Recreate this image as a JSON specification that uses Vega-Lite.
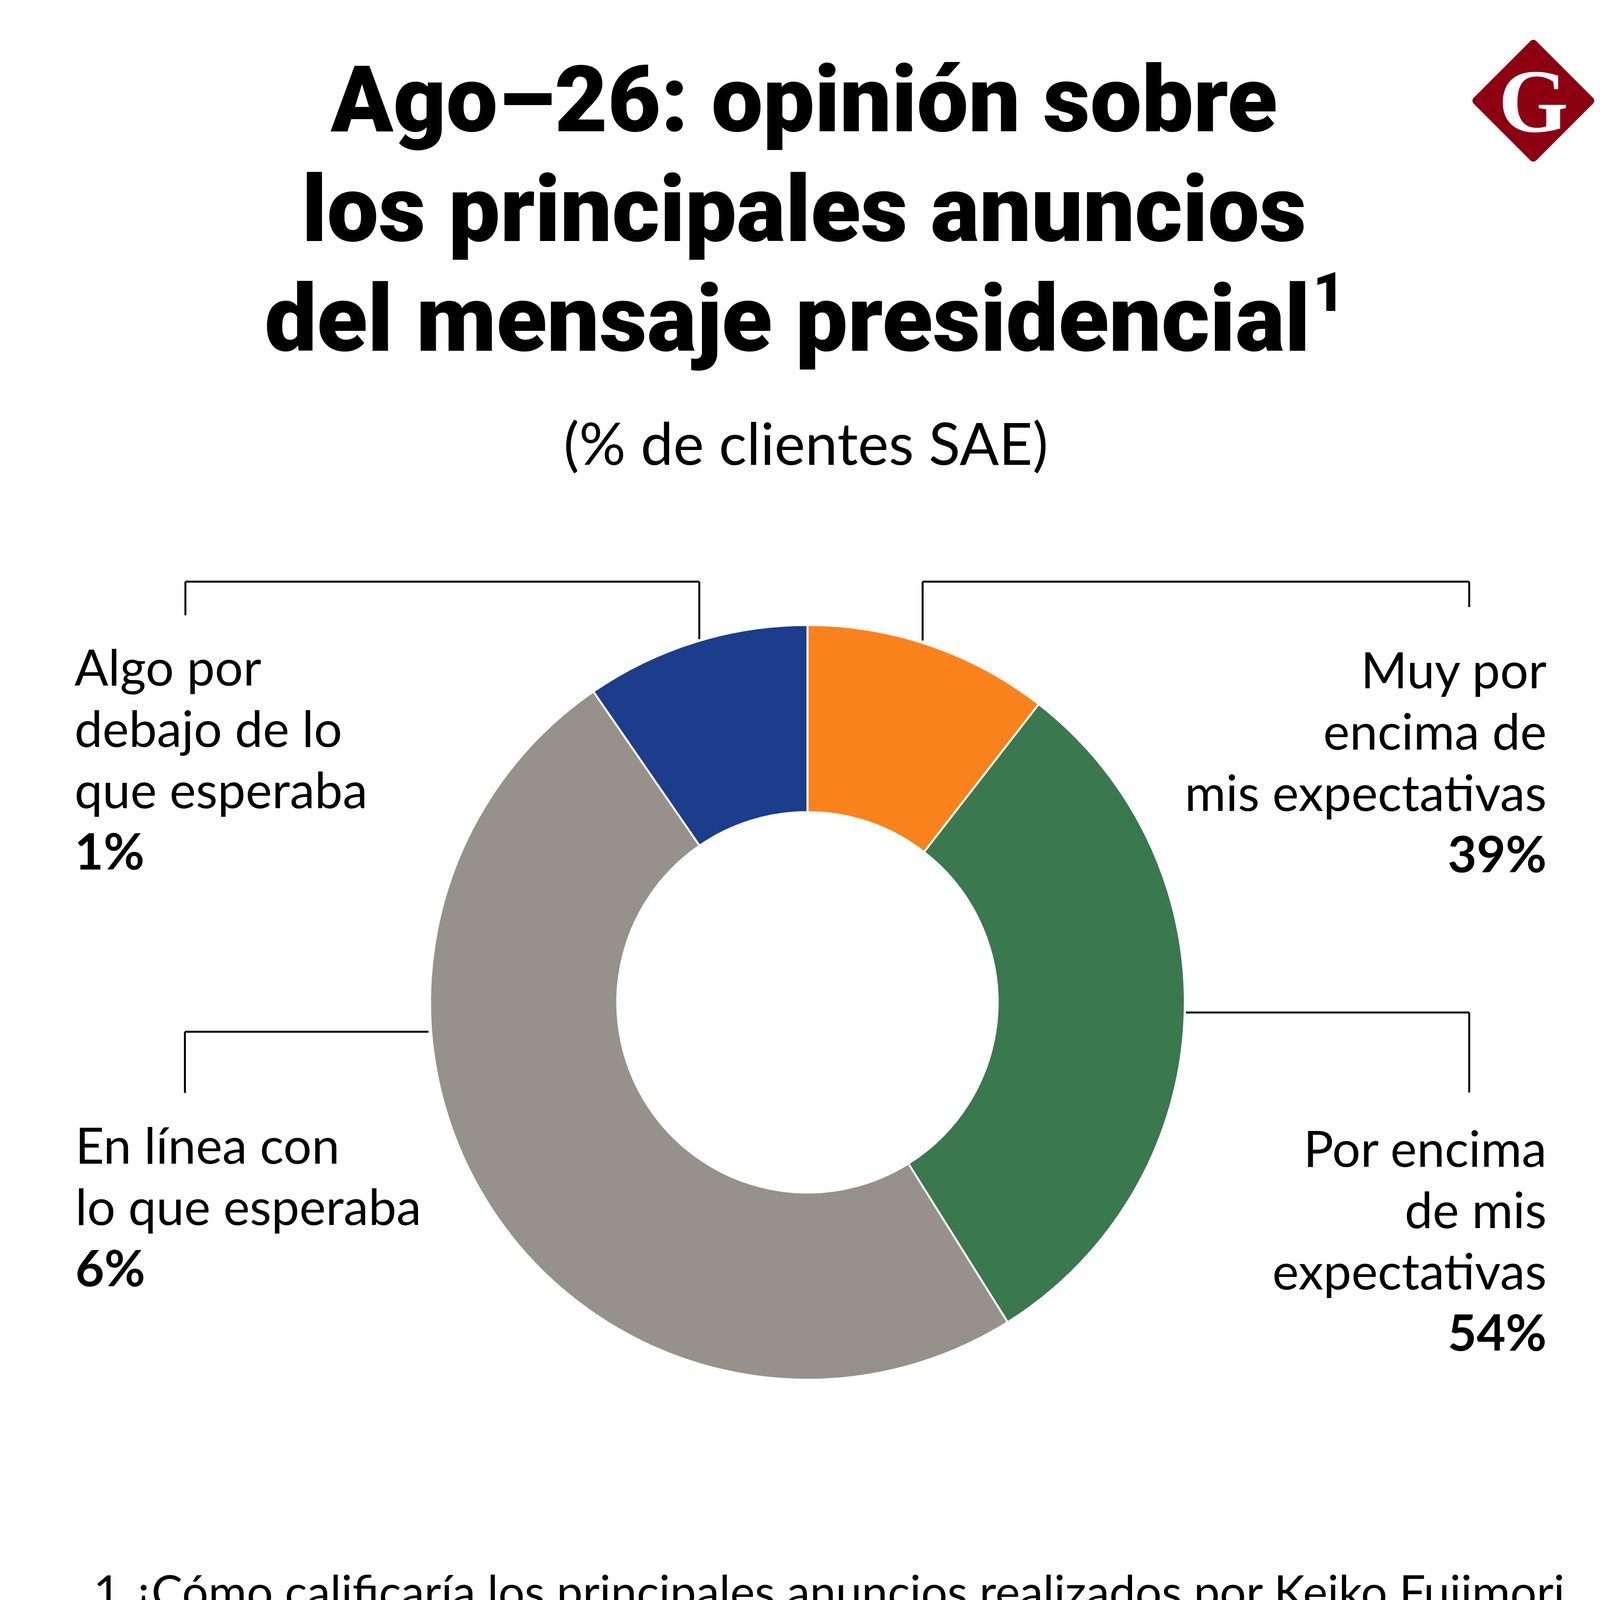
{
  "$schema": "https://vega.github.io/schema/vega-lite/v6.json",
  "autosize": {"type": "fit", "contains": "padding"},
  "width": 4150,
  "height": 5295,
  "padding": 0,
  "background": "#ffffff",
  "config": {"view": {"stroke": null}, "axis": {"disable": true}, "text": {"font": "Lato", "color": "#000000"}},
  "data": {"values": [
    {"categoria": "Muy por\nencima de\nmis expectativas", "proporcion": 0.39, "sector": 10.5, "orden": 1},
    {"categoria": "Por encima\nde mis\nexpectativas", "proporcion": 0.54, "sector": 30.6, "orden": 2},
    {"categoria": "En línea con\n\u00a0lo que esperaba", "proporcion": 0.06, "sector": 49.3, "orden": 3},
    {"categoria": "Algo por\ndebajo de lo\nque esperaba", "proporcion": 0.01, "sector": 9.6, "orden": 4}
  ]},
  "layer": [
    {
      "mark": {"type": "arc", "outerRadius": 966, "innerRadius": 487, "stroke": "#ffffff", "strokeWidth": 5},
      "encoding": {
        "x": {"datum": 49.81, "type": "quantitative", "scale": {"domain": [0, 100], "nice": false, "zero": false}},
        "y": {"datum": 48.46, "type": "quantitative", "scale": {"domain": [0, 100], "nice": false, "zero": false, "reverse": true}},
        "theta": {"field": "sector", "type": "quantitative", "stack": true},
        "order": {"field": "orden", "type": "quantitative"},
        "color": {"field": "categoria", "type": "nominal", "legend": null,
          "scale": {"domain": ["Muy por\nencima de\nmis expectativas", "Por encima\nde mis\nexpectativas", "En línea con\n\u00a0lo que esperaba", "Algo por\ndebajo de lo\nque esperaba"],
                    "range": ["#FA821C", "#3A784E", "#96918A", "#1C3D8C"]}}
      }
    },
    {
      "transform": [{"filter": "datum.orden == 1"}],
      "mark": {"type": "text", "align": "right", "baseline": "alphabetic", "fontSize": 128, "lineHeight": 157, "lineBreak": "\n"},
      "encoding": {
        "x": {"datum": 95.45, "type": "quantitative", "scale": {"domain": [0, 100], "nice": false, "zero": false}},
        "y": {"datum": 33.28, "type": "quantitative", "scale": {"domain": [0, 100], "nice": false, "zero": false, "reverse": true}},
        "text": {"field": "categoria"}
      }
    },
    {
      "transform": [{"filter": "datum.orden == 1"}],
      "mark": {"type": "text", "align": "right", "baseline": "alphabetic", "fontSize": 128, "fontWeight": "bold"},
      "encoding": {
        "x": {"datum": 95.45, "type": "quantitative", "scale": {"domain": [0, 100], "nice": false, "zero": false}},
        "y": {"datum": 42.17, "type": "quantitative", "scale": {"domain": [0, 100], "nice": false, "zero": false, "reverse": true}},
        "text": {"field": "proporcion", "type": "quantitative", "format": ".0%"}
      }
    },
    {
      "transform": [{"filter": "datum.orden == 2"}],
      "mark": {"type": "text", "align": "right", "baseline": "alphabetic", "fontSize": 128, "lineHeight": 157, "lineBreak": "\n"},
      "encoding": {
        "x": {"datum": 95.45, "type": "quantitative", "scale": {"domain": [0, 100], "nice": false, "zero": false}},
        "y": {"datum": 56.41, "type": "quantitative", "scale": {"domain": [0, 100], "nice": false, "zero": false, "reverse": true}},
        "text": {"field": "categoria"}
      }
    },
    {
      "transform": [{"filter": "datum.orden == 2"}],
      "mark": {"type": "text", "align": "right", "baseline": "alphabetic", "fontSize": 128, "fontWeight": "bold"},
      "encoding": {
        "x": {"datum": 95.45, "type": "quantitative", "scale": {"domain": [0, 100], "nice": false, "zero": false}},
        "y": {"datum": 65.31, "type": "quantitative", "scale": {"domain": [0, 100], "nice": false, "zero": false, "reverse": true}},
        "text": {"field": "proporcion", "type": "quantitative", "format": ".0%"}
      }
    },
    {
      "transform": [{"filter": "datum.orden == 3"}],
      "mark": {"type": "text", "align": "left", "baseline": "alphabetic", "fontSize": 128, "lineHeight": 157, "lineBreak": "\n"},
      "encoding": {
        "x": {"datum": 4.6, "type": "quantitative", "scale": {"domain": [0, 100], "nice": false, "zero": false}},
        "y": {"datum": 56.26, "type": "quantitative", "scale": {"domain": [0, 100], "nice": false, "zero": false, "reverse": true}},
        "text": {"field": "categoria"}
      }
    },
    {
      "transform": [{"filter": "datum.orden == 3"}],
      "mark": {"type": "text", "align": "left", "baseline": "alphabetic", "fontSize": 128, "fontWeight": "bold"},
      "encoding": {
        "x": {"datum": 4.6, "type": "quantitative", "scale": {"domain": [0, 100], "nice": false, "zero": false}},
        "y": {"datum": 62.19, "type": "quantitative", "scale": {"domain": [0, 100], "nice": false, "zero": false, "reverse": true}},
        "text": {"field": "proporcion", "type": "quantitative", "format": ".0%"}
      }
    },
    {
      "transform": [{"filter": "datum.orden == 4"}],
      "mark": {"type": "text", "align": "left", "baseline": "alphabetic", "fontSize": 128, "lineHeight": 157, "lineBreak": "\n"},
      "encoding": {
        "x": {"datum": 4.55, "type": "quantitative", "scale": {"domain": [0, 100], "nice": false, "zero": false}},
        "y": {"datum": 33.14, "type": "quantitative", "scale": {"domain": [0, 100], "nice": false, "zero": false, "reverse": true}},
        "text": {"field": "categoria"}
      }
    },
    {
      "transform": [{"filter": "datum.orden == 4"}],
      "mark": {"type": "text", "align": "left", "baseline": "alphabetic", "fontSize": 128, "fontWeight": "bold"},
      "encoding": {
        "x": {"datum": 4.55, "type": "quantitative", "scale": {"domain": [0, 100], "nice": false, "zero": false}},
        "y": {"datum": 42.04, "type": "quantitative", "scale": {"domain": [0, 100], "nice": false, "zero": false, "reverse": true}},
        "text": {"field": "proporcion", "type": "quantitative", "format": ".0%"}
      }
    },
    {
      "data": {"values": [{}]},
      "mark": {"type": "rule", "color": "#000000", "strokeWidth": 5},
      "encoding": {
        "x": {"datum": 11.4, "type": "quantitative", "scale": {"domain": [0, 100], "nice": false, "zero": false}},
        "x2": {"datum": 43.13},
        "y": {"datum": 28.12, "type": "quantitative", "scale": {"domain": [0, 100], "nice": false, "zero": false, "reverse": true}}
      }
    },
    {
      "data": {"values": [{}]},
      "mark": {"type": "rule", "color": "#000000", "strokeWidth": 5},
      "encoding": {
        "x": {"datum": 11.4, "type": "quantitative", "scale": {"domain": [0, 100], "nice": false, "zero": false}},
        "y": {"datum": 28.12, "type": "quantitative", "scale": {"domain": [0, 100], "nice": false, "zero": false, "reverse": true}},
        "y2": {"datum": 29.75}
      }
    },
    {
      "data": {"values": [{}]},
      "mark": {"type": "rule", "color": "#000000", "strokeWidth": 5},
      "encoding": {
        "x": {"datum": 43.13, "type": "quantitative", "scale": {"domain": [0, 100], "nice": false, "zero": false}},
        "y": {"datum": 28.12, "type": "quantitative", "scale": {"domain": [0, 100], "nice": false, "zero": false, "reverse": true}},
        "y2": {"datum": 30.9}
      }
    },
    {
      "data": {"values": [{}]},
      "mark": {"type": "rule", "color": "#000000", "strokeWidth": 5},
      "encoding": {
        "x": {"datum": 56.92, "type": "quantitative", "scale": {"domain": [0, 100], "nice": false, "zero": false}},
        "x2": {"datum": 90.67},
        "y": {"datum": 28.12, "type": "quantitative", "scale": {"domain": [0, 100], "nice": false, "zero": false, "reverse": true}}
      }
    },
    {
      "data": {"values": [{}]},
      "mark": {"type": "rule", "color": "#000000", "strokeWidth": 5},
      "encoding": {
        "x": {"datum": 56.92, "type": "quantitative", "scale": {"domain": [0, 100], "nice": false, "zero": false}},
        "y": {"datum": 28.12, "type": "quantitative", "scale": {"domain": [0, 100], "nice": false, "zero": false, "reverse": true}},
        "y2": {"datum": 30.97}
      }
    },
    {
      "data": {"values": [{}]},
      "mark": {"type": "rule", "color": "#000000", "strokeWidth": 5},
      "encoding": {
        "x": {"datum": 90.67, "type": "quantitative", "scale": {"domain": [0, 100], "nice": false, "zero": false}},
        "y": {"datum": 28.12, "type": "quantitative", "scale": {"domain": [0, 100], "nice": false, "zero": false, "reverse": true}},
        "y2": {"datum": 29.35}
      }
    },
    {
      "data": {"values": [{}]},
      "mark": {"type": "rule", "color": "#000000", "strokeWidth": 5},
      "encoding": {
        "x": {"datum": 73.18, "type": "quantitative", "scale": {"domain": [0, 100], "nice": false, "zero": false}},
        "x2": {"datum": 90.67},
        "y": {"datum": 48.95, "type": "quantitative", "scale": {"domain": [0, 100], "nice": false, "zero": false, "reverse": true}}
      }
    },
    {
      "data": {"values": [{}]},
      "mark": {"type": "rule", "color": "#000000", "strokeWidth": 5},
      "encoding": {
        "x": {"datum": 90.67, "type": "quantitative", "scale": {"domain": [0, 100], "nice": false, "zero": false}},
        "y": {"datum": 48.95, "type": "quantitative", "scale": {"domain": [0, 100], "nice": false, "zero": false, "reverse": true}},
        "y2": {"datum": 52.82}
      }
    },
    {
      "data": {"values": [{}]},
      "mark": {"type": "rule", "color": "#000000", "strokeWidth": 5},
      "encoding": {
        "x": {"datum": 11.37, "type": "quantitative", "scale": {"domain": [0, 100], "nice": false, "zero": false}},
        "x2": {"datum": 26.41},
        "y": {"datum": 49.88, "type": "quantitative", "scale": {"domain": [0, 100], "nice": false, "zero": false, "reverse": true}}
      }
    },
    {
      "data": {"values": [{}]},
      "mark": {"type": "rule", "color": "#000000", "strokeWidth": 5},
      "encoding": {
        "x": {"datum": 11.37, "type": "quantitative", "scale": {"domain": [0, 100], "nice": false, "zero": false}},
        "y": {"datum": 49.88, "type": "quantitative", "scale": {"domain": [0, 100], "nice": false, "zero": false, "reverse": true}},
        "y2": {"datum": 52.84}
      }
    },
    {
      "data": {"values": [{}]},
      "mark": {"type": "text", "align": "center", "baseline": "alphabetic", "font": "Roboto", "fontSize": 235, "fontWeight": 900, "lineHeight": 281, "lineBreak": "\n",
               "text": "Ago–26: opinión sobre\nlos principales anuncios"},
      "encoding": {
        "x": {"datum": 49.6, "type": "quantitative", "scale": {"domain": [0, 100], "nice": false, "zero": false}},
        "y": {"datum": 6.35, "type": "quantitative", "scale": {"domain": [0, 100], "nice": false, "zero": false, "reverse": true}}
      }
    },
    {
      "data": {"values": [{}]},
      "mark": {"type": "text", "align": "center", "baseline": "alphabetic", "font": "Roboto", "fontSize": 238, "fontWeight": 900, "text": "del mensaje presidencial"},
      "encoding": {
        "x": {"datum": 48.57, "type": "quantitative", "scale": {"domain": [0, 100], "nice": false, "zero": false}},
        "y": {"datum": 16.96, "type": "quantitative", "scale": {"domain": [0, 100], "nice": false, "zero": false, "reverse": true}}
      }
    },
    {
      "data": {"values": [{}]},
      "mark": {"type": "text", "align": "center", "baseline": "alphabetic", "font": "Roboto", "fontSize": 140, "fontWeight": 900, "text": "1"},
      "encoding": {
        "x": {"datum": 82.0, "type": "quantitative", "scale": {"domain": [0, 100], "nice": false, "zero": false}},
        "y": {"datum": 15.03, "type": "quantitative", "scale": {"domain": [0, 100], "nice": false, "zero": false, "reverse": true}}
      }
    },
    {
      "data": {"values": [{}]},
      "mark": {"type": "text", "align": "center", "baseline": "alphabetic", "fontSize": 149, "text": "(% de clientes SAE)"},
      "encoding": {
        "x": {"datum": 49.71, "type": "quantitative", "scale": {"domain": [0, 100], "nice": false, "zero": false}},
        "y": {"datum": 22.47, "type": "quantitative", "scale": {"domain": [0, 100], "nice": false, "zero": false, "reverse": true}}
      }
    },
    {
      "data": {"values": [{}]},
      "mark": {"type": "point", "shape": "diamond", "size": 85264, "filled": true, "color": "#8C0012", "stroke": "#8C0012", "strokeWidth": 20, "strokeJoin": "round", "opacity": 1},
      "encoding": {
        "x": {"datum": 94.63, "type": "quantitative", "scale": {"domain": [0, 100], "nice": false, "zero": false}},
        "y": {"datum": 4.87, "type": "quantitative", "scale": {"domain": [0, 100], "nice": false, "zero": false, "reverse": true}}
      }
    },
    {
      "data": {"values": [{}]},
      "mark": {"type": "text", "align": "center", "baseline": "alphabetic", "font": "Liberation Serif", "fontWeight": "bold", "fontSize": 230, "color": "#ffffff", "text": "G"},
      "encoding": {
        "x": {"datum": 94.63, "type": "quantitative", "scale": {"domain": [0, 100], "nice": false, "zero": false}},
        "y": {"datum": 6.36, "type": "quantitative", "scale": {"domain": [0, 100], "nice": false, "zero": false, "reverse": true}}
      }
    },
    {
      "data": {"values": [{}]},
      "mark": {"type": "text", "align": "left", "baseline": "alphabetic", "fontSize": 119, "lineHeight": 150, "lineBreak": "\n",
               "text": "1 ¿Cómo calificaría los principales anuncios realizados por Keiko Fujimori\ndurante su primer mensaje presidencial (reforma del sistema\npenitenciario, aumento de la remuneración mínima, duplicación de\nPensión 65, y ejecución de grandes obras de infraestructura)?"},
      "encoding": {
        "x": {"datum": 5.72, "type": "quantitative", "scale": {"domain": [0, 100], "nice": false, "zero": false}},
        "y": {"datum": 77.77, "type": "quantitative", "scale": {"domain": [0, 100], "nice": false, "zero": false, "reverse": true}}
      }
    },
    {
      "data": {"values": [{}]},
      "mark": {"type": "rule", "color": "#b5b5b5", "strokeWidth": 3},
      "encoding": {
        "x": {"datum": 0, "type": "quantitative", "scale": {"domain": [0, 100], "nice": false, "zero": false}},
        "x2": {"datum": 100},
        "y": {"datum": 90.63, "type": "quantitative", "scale": {"domain": [0, 100], "nice": false, "zero": false, "reverse": true}}
      }
    },
    {
      "data": {"values": [{}]},
      "mark": {"type": "text", "align": "left", "baseline": "alphabetic", "fontSize": 119, "text": "FUENTE: Sondeo SAE, APOYO Consultoría"},
      "encoding": {
        "x": {"datum": 5.62, "type": "quantitative", "scale": {"domain": [0, 100], "nice": false, "zero": false}},
        "y": {"datum": 95.79, "type": "quantitative", "scale": {"domain": [0, 100], "nice": false, "zero": false, "reverse": true}}
      }
    }
  ]
}
